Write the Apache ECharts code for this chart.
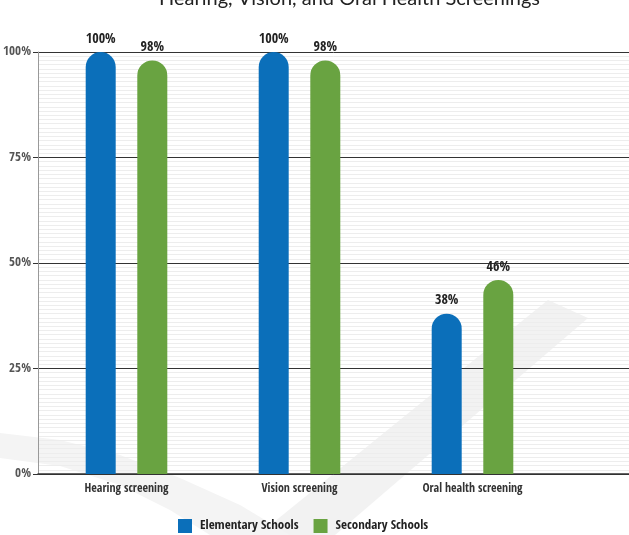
<!DOCTYPE html>
<html>
<head>
<meta charset="utf-8">
<script src="https://cdn.jsdelivr.net/npm/echarts@6/dist/echarts.min.js"></script>
<style>
  html, body { margin: 0; padding: 0; background: #fff; }
  #chart { width: 629px; height: 535px; }
</style>
</head>
<body>
<div id="chart"></div>
<script>
const titleText = 'Hearing, Vision, and Oral Health Screenings';
const categories = ['Hearing screening', 'Vision screening', 'Oral health screening'];
const elementary = [100, 100, 38];
const secondary = [98, 98, 46];
const seriesNames = ['Elementary Schools', 'Secondary Schools'];
const yTicks = [0, 25, 50, 75, 100];

const BLUE = '#0b6fba';
const GREEN = '#69a341';
const CONDENSED = '"Open Sans Condensed", "Roboto Condensed", sans-serif';

const chart = echarts.init(document.getElementById('chart'), null, { renderer: 'canvas' });

const barLabel = {
  show: true,
  position: 'top',
  distance: 6,
  formatter: '{c}%',
  fontFamily: CONDENSED,
  fontWeight: 'bold',
  fontSize: 14,
  color: '#222'
};

chart.setOption({
  animation: false,
  backgroundColor: '#fff',
  title: {
    text: titleText,
    left: 154,
    top: -16,
    textStyle: { fontFamily: 'Lato, "Open Sans", sans-serif', fontWeight: 'normal', fontSize: 20, color: '#222' }
  },
  // faint check-mark watermark behind the plot
  graphic: [
    {
      type: 'polygon', z: -10, silent: true,
      shape: { points: [[548, 300], [588, 318], [335, 535], [258, 535]] },
      style: { fill: '#f2f2f2' }
    },
    {
      type: 'polygon', z: -10, silent: true, smooth: 0.3,
      shape: { points: [[0, 433], [60, 440], [120, 455], [180, 478], [240, 505], [290, 535], [210, 535], [170, 510], [120, 485], [60, 466], [0, 458]] },
      style: { fill: '#f4f4f4' }
    }
  ],
  legend: {
    data: seriesNames,
    left: 173,
    top: 514,
    itemWidth: 14,
    itemHeight: 14,
    itemGap: 15,
    icon: 'rect',
    textStyle: { fontFamily: CONDENSED, fontWeight: 'bold', fontSize: 13, color: '#222', padding: [0, 0, 0, 3] }
  },
  grid: [
    { left: 38, right: 0, top: 52, bottom: 61, outerBoundsMode: 'none' },
    { left: 40, width: 519, top: 52, bottom: 61, outerBoundsMode: 'none' }
  ],
  xAxis: [
    {
      gridIndex: 0, type: 'value', min: 0, max: 1,
      axisLine: { show: true, onZero: false, lineStyle: { color: '#333', width: 1.5 } },
      axisTick: { show: false }, axisLabel: { show: false }, splitLine: { show: false }
    },
    {
      gridIndex: 1, type: 'category', data: categories,
      axisLine: { show: false }, axisTick: { show: false },
      axisLabel: { fontFamily: CONDENSED, fontWeight: 'bold', fontSize: 12, color: '#333', margin: 9 }
    }
  ],
  yAxis: [
    {
      gridIndex: 0, type: 'value', min: yTicks[0], max: yTicks[yTicks.length - 1], interval: 25,
      axisLine: { show: true, lineStyle: { color: '#999', width: 1 } },
      axisTick: { show: true, length: 5, lineStyle: { color: '#333' } },
      axisLabel: { formatter: '{value}%', fontFamily: CONDENSED, fontWeight: 'bold', fontSize: 13, color: '#555', margin: 7 },
      splitLine: { show: true, lineStyle: { color: '#333', width: 1 } },
      minorTick: { show: false, splitNumber: 25 },
      minorSplitLine: { show: true, lineStyle: { color: '#ededed', width: 1 } }
    },
    {
      gridIndex: 1, type: 'value', min: 0, max: 100, show: false, splitLine: { show: false }
    }
  ],
  series: [
    {
      name: seriesNames[0], type: 'bar', xAxisIndex: 1, yAxisIndex: 1,
      data: elementary, barWidth: 30, barGap: '72%',
      itemStyle: { color: BLUE, borderRadius: [15, 15, 0, 0] },
      label: barLabel
    },
    {
      name: seriesNames[1], type: 'bar', xAxisIndex: 1, yAxisIndex: 1,
      data: secondary, barWidth: 30, barGap: '72%',
      itemStyle: { color: GREEN, borderRadius: [15, 15, 0, 0] },
      label: barLabel
    }
  ]
});
</script>
</body>
</html>
